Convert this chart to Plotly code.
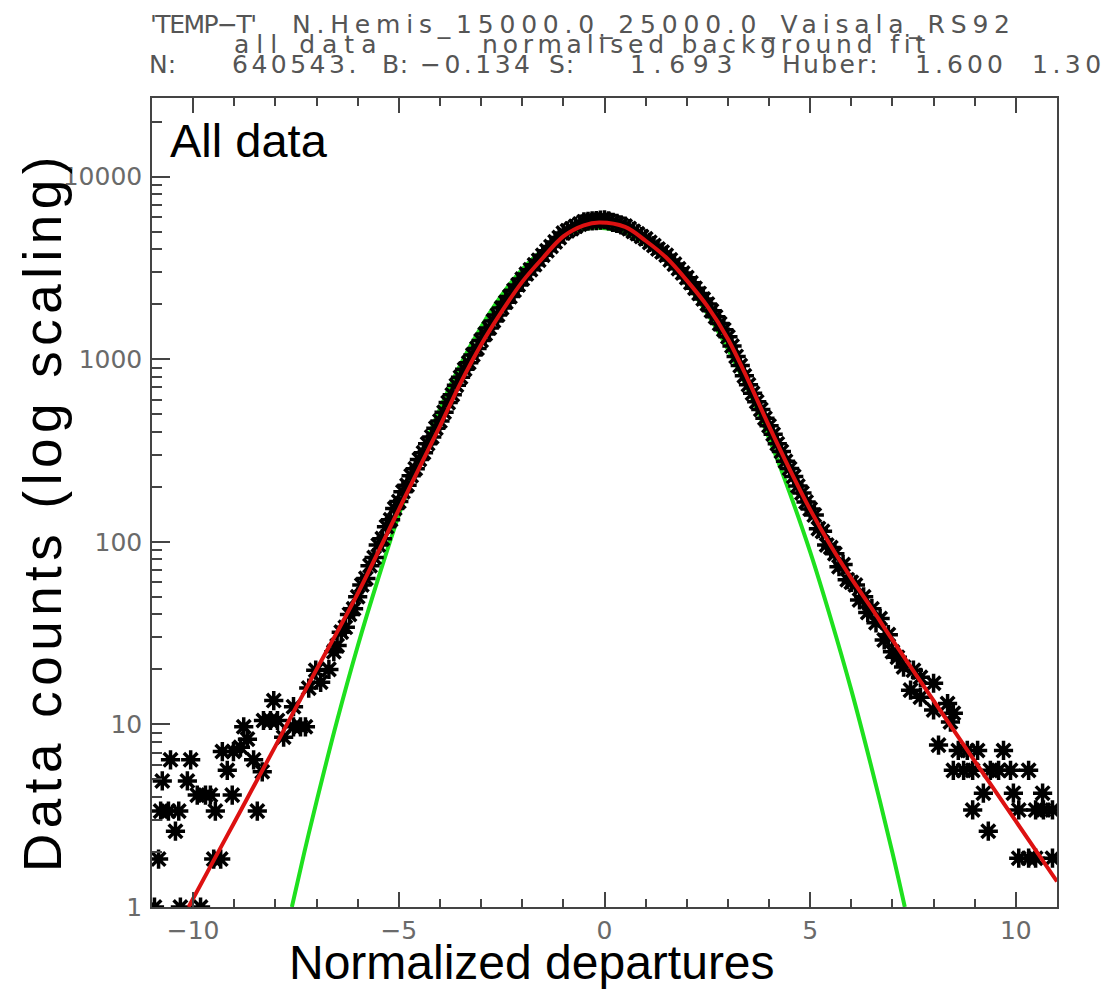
import plotly.graph_objects as go

# ---------------- data ----------------
# histogram counts in the core, bins of 0.1 starting at -6.5
core_start = -6.5
core_step = 0.1
core_counts = [
    27, 32, 34, 40, 43, 50,
    58, 63, 74, 82, 96,
    104, 121, 132, 152, 166,
    188, 204, 230, 251, 282,
    307, 344, 375, 419, 458,
    512, 578, 638, 720, 796,
    880, 955, 1055, 1145, 1265,
    1372, 1480, 1620, 1745, 1905,
    2050, 2200, 2380, 2550, 2745,
    2925, 3090, 3290, 3480, 3705,
    3920, 4135, 4385, 4630, 4905,
    5045, 5180, 5340, 5485, 5655,
    5690, 5720, 5735, 5775, 5800,
    5715, 5615, 5535, 5440, 5355,
    5185, 5010, 4860, 4695, 4555,
    4360, 4190, 4010, 3860, 3705,
    3495, 3315, 3125, 2965, 2795,
    2620, 2445, 2290, 2135, 2005,
    1840, 1705, 1565, 1450, 1325,
    1180, 1035, 922, 810, 724,
    650, 584, 530, 475, 432,
    388, 344, 312, 276, 252,
    228, 202, 185, 165, 151,
    140, 118, 114, 96, 93,
    86, 73, 75, 62, 60,
    58, 48, 50, 41, 43,
    36, 38, 29, 31, 25,
]
core_x = [round(core_start + core_step * i, 2) for i in range(len(core_counts))]

# sparse tails
left_x = [-10.94, -10.31, -9.82, -10.84, -9.5, -9.33, -10.43, -10.79, -10.6, -10.35,
          -9.46, -8.44, -9.9, -9.7, -9.58, -9.05, -10.75, -10.14, -10.55, -10.06,
          -9.17, -9.29, -9.02, -8.53, -8.32, -8.85, -8.77, -8.68, -8.29, -8.12,
          -7.95, -8.04, -7.8, -7.56, -7.39, -7.27, -7.56, -7.19, -7.02, -6.9,
          -6.7, -6.58]
left_y = [1.0, 1.0, 1.0, 1.83, 1.83, 1.83, 2.6, 3.35, 3.35, 3.35,
          3.35, 3.35, 4.1, 4.1, 4.1, 4.1, 4.9, 4.9, 6.4, 6.4,
          5.6, 7.1, 7.1, 6.4, 5.5, 7.5, 9.7, 8.3, 10.5, 10.5,
          10.5, 13.5, 8.5, 9.7, 9.7, 9.7, 12.5, 15.8, 19.8, 17,
          20, 25]
right_x = [7.12, 7.27, 7.51, 7.68, 8.0, 7.44, 7.68, 8.0, 8.34, 8.48,
           8.41, 8.12, 8.6, 8.82, 9.07, 9.7, 8.48, 8.73, 8.95, 9.38,
           9.58, 9.87, 10.31, 9.21, 9.94, 10.65, 8.95, 10.07, 10.48, 10.67,
           10.89, 9.33, 10.07, 10.31, 10.48, 10.89]
right_y = [23.3, 20.6, 19.8, 18.1, 16.8, 15.4, 14.1, 12, 13, 11.5,
           10.3, 7.7, 7.2, 7.2, 7.2, 7.2, 5.6, 5.6, 5.6, 5.6,
           5.6, 5.6, 5.6, 4.2, 4.2, 4.2, 3.4, 3.4, 3.4, 3.4,
           3.4, 2.6, 1.85, 1.85, 1.85, 1.85]

# red (Huber fit) curve, read points
red_x = [-10.11, -9.5, -9.0, -8.5, -8.0, -7.5, -7.0, -6.5, -6.0, -5.5, -5.0, -4.5,
         -4.0, -3.5, -3.0, -2.5, -2.0, -1.5, -1.0, -0.5, -0.13, 0.5, 1.0, 1.5,
         2.0, 2.5, 3.0, 3.5, 4.0, 4.5, 5.0, 5.5, 6.0, 6.5, 7.0, 8.0, 9.0,
         10.0, 11.0]
red_y = [1.0, 1.8, 2.9, 4.7, 7.6, 12.4, 20, 32, 52, 88, 150, 255,
         430, 740, 1200, 1820, 2650, 3580, 4700, 5400, 5600, 5300, 4450, 3600,
         2700, 1950, 1290, 760, 430, 250, 150, 95, 63, 43, 29, 13.5, 6.3,
         2.95, 1.38]

# green (Gaussian fit) curve, read points
green_x = [-7.6, -7.3, -7.0, -6.5, -6.0, -5.5, -5.0, -4.5, -4.0, -3.5, -3.0, -2.5,
           -2.0, -1.5, -1.0, -0.5, -0.15, 0.5, 1.0, 1.5, 2.0, 2.5, 3.0, 3.5,
           4.0, 4.5, 5.0, 5.5, 6.0, 6.5, 7.0, 7.3]
green_y = [1.0, 1.98, 3.78, 10.5, 26.8, 63, 140, 284, 535, 935, 1500, 2240,
           3100, 3960, 4700, 5150, 5250, 4920, 4290, 3450, 2570, 1780, 1135, 675,
           369, 186, 88, 38, 15.4, 5.7, 1.98, 1.0]

x_tickvals = [-10, -5, 0, 5, 10]
x_ticktext = ["\u221210", "\u22125", "0", "5", "10"]
y_tickvals = [1, 10, 100, 1000, 10000]
y_ticktext = ["1", "10", "100", "1000", "10000"]
y_minor = [m * 10 ** k for k in range(5) for m in range(2, 10)]

title_texts = [
    "'TEMP\u2212T'", "N.Hemis_15000.0_25000.0_Vaisala_RS92",
    "all data", "normalised background fit",
    "N:", "640543.", "B:", "\u22120.134", "S:", "1.693", "Huber:", "1.600", "1.30",
]
# layout of the title pieces (page px): (left, centre y, letter spacing)
title_pos = [
    (148, 24, -1.5), (290, 24, 5.8),
    (232, 45, 7.0), (480, 45, 4.8),
    (147, 65, 0.0), (230, 65, 3.5), (380, 65, 0.5), (418, 65, 3.5), (547, 65, 1.0),
    (628, 65, 7.7), (780, 65, 2.3), (913, 65, 4.1), (1030, 65, 4.5),
]

# ---------------- figure ----------------
PAGE_W, PAGE_H = 1115, 989
OFF = 8                       # default body margin of the html page
L, R, T, B = 152, 1057, 98, 907   # plot area in page pixels


def px(x):
    return (x - L) / (R - L)


def py(y):
    return (B - y) / (B - T)


fig = go.Figure()
fig.add_trace(go.Scatter(x=green_x, y=green_y, mode="lines", line_shape="spline",
                         line=dict(color="#1ee01e", width=4), hoverinfo="skip"))
star = dict(symbol="asterisk-open", size=16, color="black",
            line=dict(color="black", width=3.5))
fig.add_trace(go.Scatter(x=core_x, y=core_counts, mode="markers", marker=star))
fig.add_trace(go.Scatter(x=left_x, y=left_y, mode="markers", marker=star))
fig.add_trace(go.Scatter(x=right_x, y=right_y, mode="markers", marker=star))
fig.add_trace(go.Scatter(x=red_x, y=red_y, mode="lines", line_shape="spline",
                         line=dict(color="#dd1111", width=4), hoverinfo="skip"))

axis_col = "#444444"
tickfont = dict(family="DejaVu Sans", size=25, color="#6a6a6a")
fig.update_xaxes(range=[-11, 11], tickvals=x_tickvals, ticktext=x_ticktext,
                 ticks="inside", ticklen=15, tickwidth=1.5, tickcolor=axis_col,
                 minor=dict(dtick=1, ticks="inside", ticklen=8, tickwidth=1.5,
                            tickcolor=axis_col),
                 showline=True, linecolor=axis_col, linewidth=1.5, mirror="ticks",
                 showgrid=False, zeroline=False, tickfont=tickfont,
                 ticklabelstandoff=0)
fig.update_yaxes(type="log", range=[0, 4.43], tickvals=y_tickvals, ticktext=y_ticktext,
                 ticks="inside", ticklen=18, tickwidth=1.5, tickcolor=axis_col,
                 minor=dict(tickvals=y_minor, ticks="inside", ticklen=10, tickwidth=1.5,
                            tickcolor=axis_col),
                 showline=True, linecolor=axis_col, linewidth=1.5, mirror=True,
                 showgrid=False, zeroline=False, tickfont=tickfont,
                 ticklabelstandoff=3)

ann = []
for txt, (lx, cy, ls) in zip(title_texts, title_pos):
    ann.append(dict(text=f'<span style="letter-spacing:{ls}px">{txt}</span>',
                    xref="paper", yref="paper", x=px(lx), y=py(cy),
                    xanchor="left", yanchor="middle", showarrow=False,
                    font=dict(family="DejaVu Sans", size=25, color="#555555")))
ann.append(dict(text="All data", xref="paper", yref="paper", x=px(168), y=py(140),
                xanchor="left", yanchor="middle", showarrow=False,
                font=dict(family="Liberation Sans", size=47, color="black")))
ann.append(dict(text="Normalized departures", xref="paper", yref="paper",
                x=px(532), y=py(962), xanchor="center", yanchor="middle",
                showarrow=False,
                font=dict(family="Liberation Sans", size=48, color="black")))
ann.append(dict(text='<span style="letter-spacing:5.5px">Data counts (log scaling)</span>',
                xref="paper", yref="paper",
                x=px(42), y=py(512), xanchor="center", yanchor="middle",
                textangle=-90, showarrow=False,
                font=dict(family="Liberation Sans", size=53, color="black")))

fig.update_layout(width=PAGE_W - OFF, height=PAGE_H - OFF,
                  margin=dict(l=L - OFF, r=PAGE_W - R, t=T - OFF, b=PAGE_H - B),
                  paper_bgcolor="white", plot_bgcolor="white", showlegend=False,
                  annotations=ann)

fig.write_html("out.html")
